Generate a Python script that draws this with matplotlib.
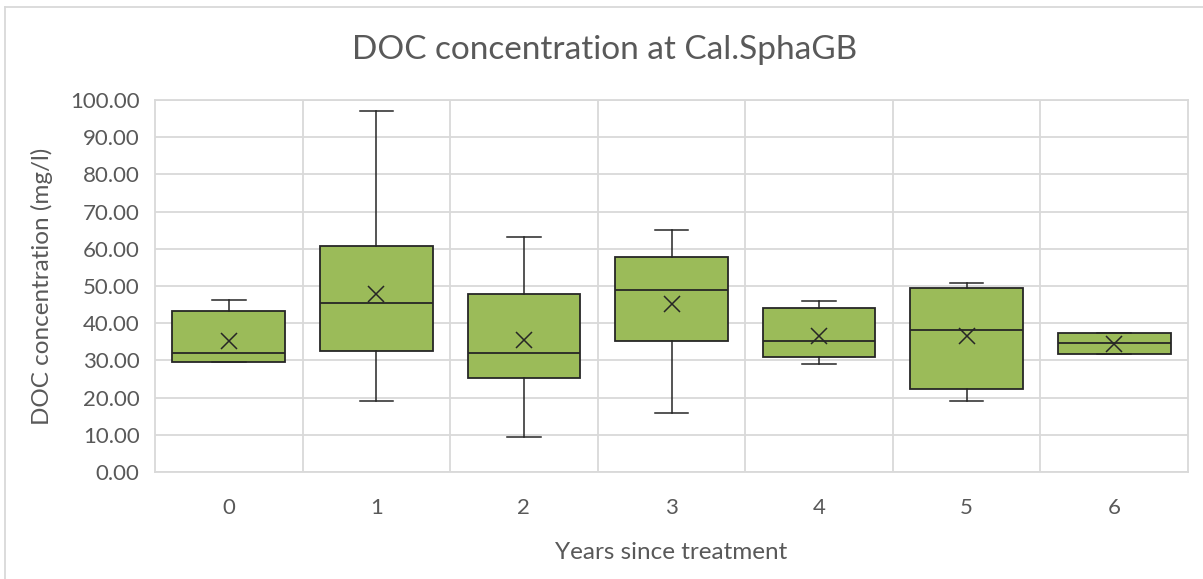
import matplotlib
matplotlib.use("Agg")
import matplotlib.pyplot as plt
from matplotlib.lines import Line2D

# --- data (mg/l) ---
years = ["0", "1", "2", "3", "4", "5", "6"]
mins = [29.7, 19.2, 9.4, 15.8, 28.9, 19.2, 31.7]
q1s = [29.7, 32.6, 25.4, 35.3, 30.8, 22.3, 31.7]
medians = [32.1, 45.3, 31.9, 48.9, 35.2, 38.2, 34.7]
q3s = [43.4, 60.8, 47.9, 57.8, 44.1, 49.4, 37.5]
maxs = [46.3, 97.0, 63.1, 65.1, 46.0, 50.9, 37.5]
means = [35.2, 47.8, 35.4, 45.1, 36.6, 36.6, 34.5]

# --- style ---
plt.rcParams['font.family'] = ['Lato', 'DejaVu Sans']
text_col = '#595959'
grid_col = '#d9d9d9'
box_col = '#9bbb59'

stats = []
for i in range(len(years)):
    stats.append(dict(label=years[i], whislo=mins[i], q1=q1s[i], med=medians[i],
                      q3=q3s[i], whishi=maxs[i], mean=means[i], fliers=[]))

fig = plt.figure(figsize=(12.03, 5.79), dpi=100)
ax = fig.add_axes([155/1203, 1 - 472/579, (1188-155)/1203, (472-100)/579])

pos = list(range(len(years)))
ax.bxp(stats, positions=pos, widths=0.763, capwidths=0.228, showmeans=True,
       patch_artist=True, manage_ticks=False,
       boxprops=dict(facecolor=box_col, edgecolor='#262626', linewidth=1.3),
       medianprops=dict(color='#262626', linewidth=1.3),
       whiskerprops=dict(color='#262626', linewidth=1.1),
       capprops=dict(color='#262626', linewidth=1.1),
       meanprops=dict(marker='x', markeredgecolor='#262626', markersize=12,
                      markeredgewidth=1.1),
       zorder=3)

ax.set_xlim(-0.5, len(years) - 0.5)
ax.set_ylim(0, 100)
ax.set_yticks(range(0, 101, 10))
ax.set_yticklabels([f"{v:.2f}" for v in range(0, 101, 10)])
ax.set_xticks(pos)
ax.set_xticklabels(years)
ax.set_xticks([p + 0.5 for p in pos[:-1]], minor=True)
ax.tick_params(axis='both', which='both', length=0, colors=text_col, labelsize=16)
ax.tick_params(axis='x', pad=19)
ax.tick_params(axis='y', pad=11)

ax.grid(axis='y', which='major', color=grid_col, linewidth=1.3, zorder=0)
ax.grid(axis='x', which='minor', color=grid_col, linewidth=1.3, zorder=0)
ax.set_axisbelow(True)
for s in ax.spines.values():
    s.set_color(grid_col)
    s.set_linewidth(1.3)

ax.set_ylabel("DOC concentration (mg/l)", fontsize=17.5, color=text_col, labelpad=12)
ax.set_xlabel("Years since treatment", fontsize=17.5, color=text_col, labelpad=17)
fig.text(605/1203, 1 - 50/579, "DOC concentration at Cal.SphaGB", fontsize=24,
         color=text_col, ha='center', va='center')

# outer chart border (top and left only visible)
fig.add_artist(Line2D([5/1203, 1], [1 - 7/579, 1 - 7/579], color=grid_col, linewidth=1.3))
fig.add_artist(Line2D([5/1203, 5/1203], [0, 1 - 7/579], color=grid_col, linewidth=1.3))

fig.savefig("out.png", dpi=100)
